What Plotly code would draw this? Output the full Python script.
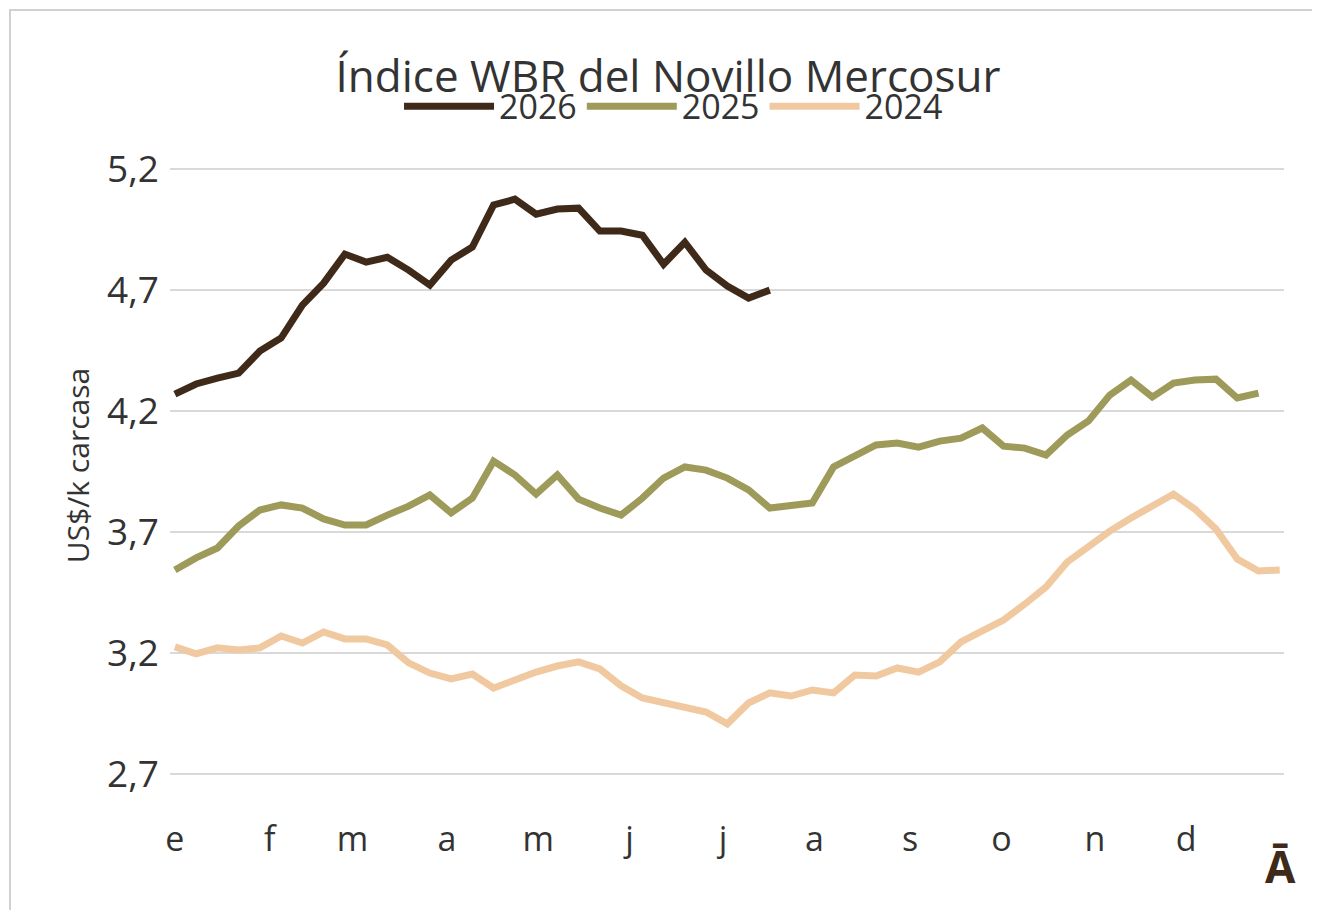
import plotly.graph_objects as go

# weekly values, US$/kg carcass
y2026 = [4.270, 4.312, 4.336, 4.357, 4.448, 4.502, 4.638, 4.729, 4.849, 4.816,
         4.836, 4.783, 4.721, 4.824, 4.878, 5.052, 5.076, 5.014, 5.035, 5.039,
         4.944, 4.944, 4.927, 4.807, 4.898, 4.783, 4.717, 4.667, 4.700]
y2025 = [3.543, 3.593, 3.634, 3.725, 3.791, 3.812, 3.799, 3.754, 3.729, 3.729,
         3.770, 3.807, 3.853, 3.779, 3.840, 3.993, 3.936, 3.857, 3.936, 3.836,
         3.799, 3.770, 3.840, 3.923, 3.969, 3.956, 3.923, 3.874, 3.799, 3.807,
         3.820, 3.969, 4.018, 4.060, 4.068, 4.051, 4.076, 4.088, 4.130, 4.055,
         4.047, 4.018, 4.101, 4.159, 4.266, 4.328, 4.258, 4.316, 4.328, 4.332,
         4.254, 4.274]
y2024 = [3.225, 3.196, 3.221, 3.212, 3.221, 3.270, 3.241, 3.287, 3.258, 3.258,
         3.233, 3.159, 3.117, 3.093, 3.113, 3.055, 3.088, 3.121, 3.146, 3.163,
         3.134, 3.064, 3.014, 2.993, 2.977, 2.956, 2.907, 2.993, 3.035, 3.022,
         3.047, 3.035, 3.109, 3.105, 3.138, 3.121, 3.163, 3.246, 3.291, 3.336,
         3.402, 3.473, 3.576, 3.642, 3.704, 3.758, 3.807, 3.857, 3.795, 3.712,
         3.588, 3.539, 3.543]

month_labels = ["e", "f", "m", "a", "m", "j", "j", "a", "s", "o", "n", "d"]
month_pos = [0, 4.46, 8.36, 12.8, 17.1, 21.4, 25.8, 30.1, 34.6, 38.9, 43.3, 47.6]

fig = go.Figure()
series = [("2026", y2026, "#3f2a1a"), ("2025", y2025, "#9e9b5a"), ("2024", y2024, "#f1c9a0")]
for name, ys, col in series:
    fig.add_trace(go.Scatter(x=list(range(len(ys))), y=ys, name=name, mode="lines",
                             line=dict(color=col, width=7)))

fig.update_layout(
    width=1320, height=910,
    paper_bgcolor="white", plot_bgcolor="white",
    font=dict(family="Open Sans, Noto Sans, sans-serif", color="#333333"),
    separators=",.",
    margin=dict(l=162, r=44, t=137, b=132),
    title=dict(text="Índice WBR del Novillo Mercosur", x=0.5, xanchor="center",
               y=0.925, yanchor="middle", font=dict(size=44, color="#333333")),
    legend=dict(orientation="h", x=0.452, xanchor="center", y=1.06, yanchor="middle",
                font=dict(size=34), itemwidth=90),
    showlegend=True,
)
fig.update_xaxes(range=[-0.23, 52.2], tickvals=month_pos, ticktext=month_labels,
                 showgrid=False, zeroline=False, showline=False,
                 tickfont=dict(size=34), ticks="", ticklabelstandoff=30)
fig.update_yaxes(range=[2.65, 5.3], tickvals=[2.7, 3.2, 3.7, 4.2, 4.7, 5.2],
                 tickformat=".1f", gridcolor="#d9d9d9", gridwidth=2, zeroline=False,
                 tickfont=dict(size=37), ticklabelstandoff=10,
                 title=dict(text="US$/k carcasa", font=dict(size=30), standoff=8))

fig.add_annotation(text="<b>Ā</b>", xref="paper", yref="paper", x=0.997, y=-0.125,
                   xanchor="center", yanchor="middle", showarrow=False,
                   font=dict(size=44, color="#3f2a1a"))
fig.add_shape(type="rect", xref="paper", yref="paper", x0=-0.1436, y0=-0.2028,
              x1=1.0377, y1=1.2106, line=dict(color="#d0d0d0", width=2))

fig.write_html("out.html")
